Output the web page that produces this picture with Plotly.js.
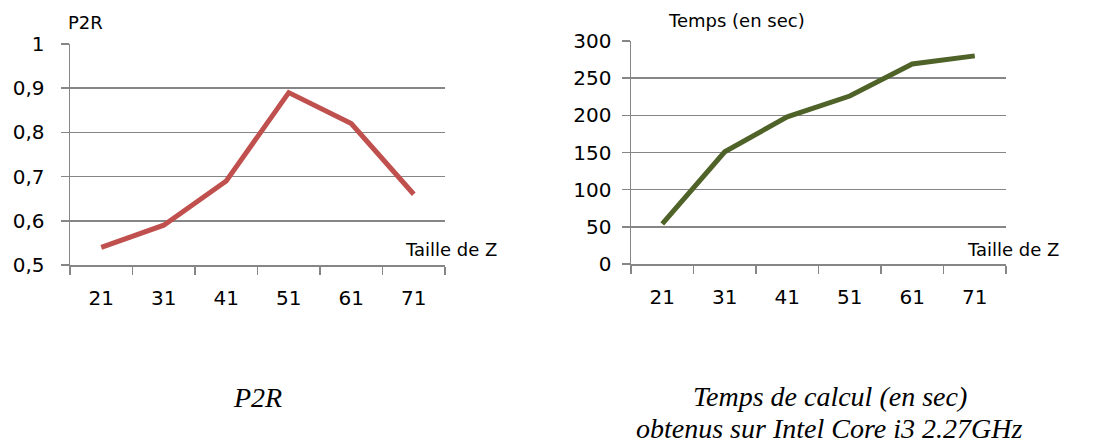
<!DOCTYPE html>
<html><head><meta charset="utf-8">
<script src="https://cdn.plot.ly/plotly-3.0.1.min.js"></script>
<style>html,body{margin:0;padding:0;background:#fff}#c{width:1096px;height:444px}</style>
</head><body><div id="c"></div>
<script>
const categories = ["21", "31", "41", "51", "61", "71"];
const p2rValues = [0.54, 0.59, 0.69, 0.89, 0.82, 0.66];
const tempsValues = [54, 151, 198, 226, 269, 280];

const tickFont = {family: "DejaVu Sans, sans-serif", size: 20, color: "#000"};
const labelFont = {family: "DejaVu Sans, sans-serif", size: 18, color: "#000"};
const captionFont = {family: "Liberation Serif, serif", size: 28, color: "#000", style: "italic"};

const data = [
  {x: categories, y: p2rValues, type: "scatter", mode: "lines", xaxis: "x", yaxis: "y",
   line: {color: "#C0504D", width: 5}, hoverinfo: "skip"},
  {x: categories, y: tempsValues, type: "scatter", mode: "lines", xaxis: "x2", yaxis: "y2",
   line: {color: "#4F6228", width: 5}, hoverinfo: "skip"}
];

const xCommon = {type: "category", range: [-0.5, 5.5], showgrid: false, showline: true,
  linecolor: "#868686", linewidth: 1.5, ticks: "outside", tickson: "boundaries", ticklen: 8,
  tickcolor: "#868686", tickwidth: 1.5, tickfont: tickFont, ticklabelstandoff: 14, fixedrange: true};
const yCommon = {showgrid: true, gridcolor: "#868686", gridwidth: 1.5, showline: true,
  linecolor: "#868686", linewidth: 1.5, ticks: "outside", ticklen: 8, tickcolor: "#868686",
  tickwidth: 1.5, tickfont: tickFont, zeroline: false, fixedrange: true, ticklabelstandoff: 6};

const layout = {
  width: 1096, height: 444, margin: {l: 0, r: 0, t: 0, b: 0},
  paper_bgcolor: "#fff", plot_bgcolor: "#fff", showlegend: false, separators: ", ",
  xaxis: Object.assign({}, xCommon, {domain: [70/1096, 445/1096], anchor: "y"}),
  yaxis: Object.assign({}, yCommon, {domain: [1 - 265/444, 1 - 44/444], range: [0.5, 1], dtick: 0.1, anchor: "x", ticklabelstandoff: 12}),
  xaxis2: Object.assign({}, xCommon, {domain: [631/1096, 1006/1096], anchor: "y2"}),
  yaxis2: Object.assign({}, yCommon, {domain: [1 - 264/444, 1 - 41/444], range: [0, 300], dtick: 50, anchor: "x2"}),
  annotations: [
    {text: "P2R", xref: "paper", yref: "paper", x: 66/1096, y: 1 - 22/444, xanchor: "left", yanchor: "middle", showarrow: false, font: labelFont},
    {text: "Taille de Z", xref: "paper", yref: "paper", x: 403/1096, y: 1 - 249/444, xanchor: "left", yanchor: "middle", showarrow: false, font: labelFont},
    {text: "Temps (en sec)", xref: "paper", yref: "paper", x: 666/1096, y: 1 - 21/444, xanchor: "left", yanchor: "middle", showarrow: false, font: labelFont},
    {text: "Taille de Z", xref: "paper", yref: "paper", x: 965/1096, y: 1 - 249/444, xanchor: "left", yanchor: "middle", showarrow: false, font: labelFont},
    {text: "P2R", xref: "paper", yref: "paper", x: 257/1096, y: 1 - 397/444, xanchor: "center", yanchor: "middle", showarrow: false, font: captionFont},
    {text: "Temps de calcul (en sec)", xref: "paper", yref: "paper", x: 830/1096, y: 1 - 396/444, xanchor: "center", yanchor: "middle", showarrow: false, font: captionFont},
    {text: "obtenus sur Intel Core i3 2.27GHz", xref: "paper", yref: "paper", x: 829/1096, y: 1 - 428/444, xanchor: "center", yanchor: "middle", showarrow: false, font: captionFont}
  ]
};
Plotly.newPlot("c", data, layout, {staticPlot: true, displayModeBar: false});
</script></body></html>
